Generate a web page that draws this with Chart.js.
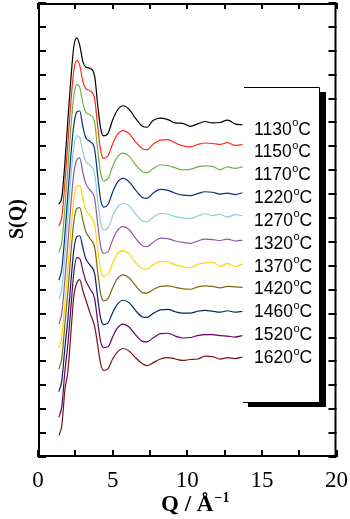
<!DOCTYPE html>
<html>
<head>
<meta charset="utf-8">
<script src="https://cdn.jsdelivr.net/npm/chart.js@4.4.0/dist/chart.umd.min.js"></script>
<style>
  html, body { margin: 0; padding: 0; background: #fff; }
  #wrap { width: 350px; height: 519px; position: relative; }
</style>
</head>
<body>
<div id="wrap"><canvas id="sq"></canvas></div>
<script>
// scattering vector Q (1/angstrom), shared by all curves
const q = [1.4, 1.6, 1.8, 2.0, 2.2, 2.4, 2.6, 2.8, 3.0, 3.2, 3.5, 3.8, 4.0, 4.2, 4.4, 4.7,
    5.0, 5.3, 5.7, 6.1, 6.5, 7.0, 7.3, 7.7, 8.2, 8.7, 9.2, 9.7, 10.2, 10.7, 11.2, 11.7,
    12.2, 12.7, 13.2, 13.7];

const temps = ['1130', '1150', '1170', '1220', '1270', '1320', '1370', '1420', '1460', '1520', '1620'];

// vertical shift of each curve in the stack
const offsets = [5.95, 5.51, 5.03, 4.50, 4.02, 3.52, 3.00, 2.54, 2.03, 1.51, 1.07];

const colors = ['#000000', '#ff2a1a', '#6cb33c', '#0b2f80', '#88cfcf', '#8c5aa5',
    '#ffd400', '#7d6a12', '#0a2266', '#650066', '#781414'];

const s1130 = [-0.66, -0.50, 0.20, 1.10, 1.95, 2.64, 2.82, 2.66, 2.33, 2.21, 2.18, 2.01, 1.42, 0.92, 0.77, 0.83,
    1.10, 1.30, 1.40, 1.33, 1.15, 0.97, 0.95, 1.09, 1.14, 1.11, 1.04, 1.03, 0.97, 1.02, 1.07, 1.04,
    1.05, 1.10, 1.02, 1.00];
const s1150 = [-0.68, -0.48, 0.22, 1.05, 1.90, 2.58, 2.79, 2.68, 2.36, 2.20, 2.15, 1.98, 1.40, 0.90, 0.74, 0.80,
    1.04, 1.23, 1.32, 1.26, 1.10, 0.94, 0.92, 1.03, 1.12, 1.13, 1.06, 1.00, 0.98, 1.03, 1.06, 1.05,
    1.03, 1.07, 1.01, 1.03];
const s1170 = [-0.75, -0.52, 0.18, 1.00, 1.85, 2.52, 2.76, 2.70, 2.38, 2.18, 2.13, 1.96, 1.40, 0.90, 0.75, 0.80,
    1.05, 1.24, 1.33, 1.27, 1.10, 0.94, 0.92, 1.00, 1.08, 1.07, 1.02, 0.98, 0.99, 1.04, 1.06, 1.05,
    0.98, 1.04, 1.01, 1.04];
const s1220 = [-0.80, -0.55, 0.15, 0.98, 1.80, 2.45, 2.72, 2.74, 2.42, 2.18, 2.10, 1.93, 1.38, 0.88, 0.73, 0.79,
    1.04, 1.24, 1.33, 1.26, 1.10, 0.93, 0.91, 1.02, 1.10, 1.08, 1.02, 0.98, 0.97, 1.01, 1.05, 1.04,
    1.00, 1.02, 0.99, 1.03];
const s1270 = [-0.72, -0.50, 0.20, 1.00, 1.82, 2.48, 2.70, 2.66, 2.38, 2.16, 2.08, 1.90, 1.36, 0.88, 0.73, 0.78,
    1.02, 1.20, 1.29, 1.24, 1.08, 0.92, 0.90, 0.99, 1.08, 1.06, 1.01, 0.98, 0.97, 1.02, 1.07, 1.03,
    1.06, 1.00, 1.05, 1.03];
const s1320 = [-0.74, -0.50, 0.18, 0.95, 1.75, 2.42, 2.70, 2.74, 2.44, 2.20, 2.06, 1.88, 1.36, 0.88, 0.74, 0.78,
    1.02, 1.21, 1.30, 1.24, 1.07, 0.90, 0.88, 0.97, 1.06, 1.05, 1.00, 0.97, 0.95, 1.00, 1.04, 1.03,
    1.01, 1.04, 1.00, 1.02];
const s1370 = [-0.72, -0.48, 0.20, 0.95, 1.72, 2.40, 2.66, 2.68, 2.42, 2.18, 2.04, 1.86, 1.36, 0.90, 0.78, 0.82,
    1.05, 1.24, 1.32, 1.25, 1.08, 0.94, 0.93, 1.02, 1.09, 1.08, 1.02, 0.98, 0.96, 1.03, 1.06, 1.08,
    0.99, 1.05, 0.98, 1.04];
const s1420 = [-0.70, -0.46, 0.22, 0.92, 1.70, 2.38, 2.66, 2.68, 2.42, 2.18, 2.02, 1.84, 1.33, 0.87, 0.73, 0.78,
    1.00, 1.18, 1.27, 1.21, 1.06, 0.90, 0.89, 0.96, 1.03, 1.04, 1.01, 0.98, 0.97, 1.02, 1.04, 1.03,
    1.00, 1.03, 1.02, 1.01];
const s1460 = [-0.66, -0.42, 0.25, 0.85, 1.62, 2.30, 2.58, 2.60, 2.36, 2.12, 1.98, 1.80, 1.30, 0.87, 0.74, 0.78,
    0.99, 1.16, 1.25, 1.20, 1.05, 0.90, 0.89, 0.97, 1.05, 1.06, 1.01, 0.98, 0.98, 1.02, 1.04, 1.02,
    1.00, 1.03, 1.00, 1.02];
const s1520 = [-0.68, -0.44, 0.28, 0.85, 1.60, 2.35, 2.66, 2.64, 2.40, 2.18, 2.00, 1.80, 1.32, 0.90, 0.78, 0.80,
    1.00, 1.18, 1.27, 1.21, 1.06, 0.91, 0.90, 0.98, 1.07, 1.08, 1.02, 0.98, 0.99, 1.03, 1.05, 1.05,
    1.03, 1.02, 1.00, 1.03];
const s1620 = [-0.62, -0.40, 0.33, 0.72, 1.50, 2.30, 2.57, 2.64, 2.42, 2.22, 1.93, 1.66, 1.27, 0.88, 0.74, 0.78,
    0.98, 1.12, 1.20, 1.15, 1.02, 0.88, 0.84, 0.90, 0.98, 1.01, 0.98, 0.95, 0.97, 0.98, 1.04, 1.03,
    0.98, 1.01, 0.99, 1.02];

const curves = [s1130, s1150, s1170, s1220, s1270, s1320, s1370, s1420, s1460, s1520, s1620];

const SERIF = '"Liberation Serif", "Times New Roman", serif';
const SANS = '"Liberation Sans", Arial, sans-serif';

// frame with inward ticks on all four sides
const framePlugin = {
    id: 'frame',
    afterDatasetsDraw(chart) {
        const {ctx, chartArea: a, scales: {x, y}} = chart;
        ctx.save();
        ctx.strokeStyle = '#000';
        ctx.lineWidth = 2;
        ctx.beginPath();
        x.ticks.forEach(t => {
            const px = Math.round(x.getPixelForValue(t.value));
            ctx.moveTo(px, a.bottom); ctx.lineTo(px, a.bottom - 7);
            ctx.moveTo(px, a.top); ctx.lineTo(px, a.top + 6);
        });
        y.ticks.forEach(t => {
            const py = Math.round(y.getPixelForValue(t.value));
            ctx.moveTo(a.left, py); ctx.lineTo(a.left + 8, py);
            ctx.moveTo(a.right, py); ctx.lineTo(a.right - 8, py);
        });
        ctx.stroke();
        ctx.strokeRect(a.left + 1, a.top + 1, a.width - 2, a.height - 2);
        ctx.restore();
    }
};

// temperature key box with drop shadow
const keyPlugin = {
    id: 'key',
    afterDraw(chart) {
        const ctx = chart.ctx;
        ctx.save();
        ctx.fillStyle = '#fff';
        ctx.fillRect(244, 87, 76, 316);
        ctx.fillStyle = '#000';
        ctx.fillRect(320, 92, 6, 315);
        ctx.fillRect(248, 402, 78, 5);
        ctx.strokeStyle = '#000';
        ctx.lineWidth = 1;
        ctx.beginPath();
        ctx.moveTo(244, 87.5); ctx.lineTo(319.5, 87.5); ctx.lineTo(319.5, 402);
        ctx.moveTo(243, 402.5); ctx.lineTo(320, 402.5);
        ctx.stroke();

        ctx.textBaseline = 'alphabetic';
        ctx.textAlign = 'left';
        temps.forEach((t, i) => {
            const by = 134.5 + i * 22.85;
            let px = 254;
            ctx.font = '17.5px ' + SANS;
            ctx.fillText(t, px, by);
            px += ctx.measureText(t).width;
            ctx.font = '11px ' + SANS;
            ctx.fillText('o', px + 0.5, by - 8.5);
            px += ctx.measureText('o').width + 0.5;
            ctx.font = '17.5px ' + SANS;
            ctx.fillText('C', px, by);
        });

        // axis titles
        ctx.font = 'bold 20px ' + SERIF;
        ctx.save();
        ctx.translate(23, 219);
        ctx.rotate(-Math.PI / 2);
        ctx.textAlign = 'center';
        ctx.fillText('S(Q)', 0, 0);
        ctx.restore();

        const a = chart.chartArea;
        const mid = (a.left + a.right) / 2;
        ctx.font = 'bold 23px ' + SERIF;
        const main = 'Q / \u00C5';
        const w = ctx.measureText(main).width;
        ctx.fillText(main, mid - w / 2, 511);
        ctx.font = 'bold 14px ' + SERIF;
        ctx.fillText('\u22121', mid + w / 2 + 1, 502);
        ctx.restore();
    }
};

const datasets = curves.map((s, i) => ({
    label: temps[i] + '\u00B0C',
    data: q.map((v, j) => ({x: v, y: s[j] + offsets[i]})),
    borderColor: colors[i],
    borderWidth: 1.2,
    pointRadius: 0,
    fill: false,
    cubicInterpolationMode: 'monotone'
}));

new Chart(document.getElementById('sq'), {
    type: 'line',
    data: {datasets},
    options: {
        responsive: true,
        maintainAspectRatio: false,
        animation: false,
        layout: {padding: {top: 3, right: 12, left: 0, bottom: 0}},
        plugins: {legend: {display: false}, tooltip: {enabled: false}},
        scales: {
            x: {
                type: 'linear',
                min: 0,
                max: 20,
                grid: {display: false},
                border: {display: false},
                ticks: {
                    stepSize: 2.5,
                    autoSkip: false,
                    maxRotation: 0,
                    padding: 2,
                    color: '#000',
                    font: {family: SERIF, size: 23},
                    callback: v => (v % 5 === 0 ? v : '')
                },
                afterFit: s => { s.height = 62; }
            },
            y: {
                min: 0,
                max: 9.5,
                grid: {display: false},
                border: {display: false},
                ticks: {stepSize: 0.5, display: false},
                afterFit: s => { s.width = 38; }
            }
        }
    },
    plugins: [framePlugin, keyPlugin]
});
</script>
</body>
</html>
